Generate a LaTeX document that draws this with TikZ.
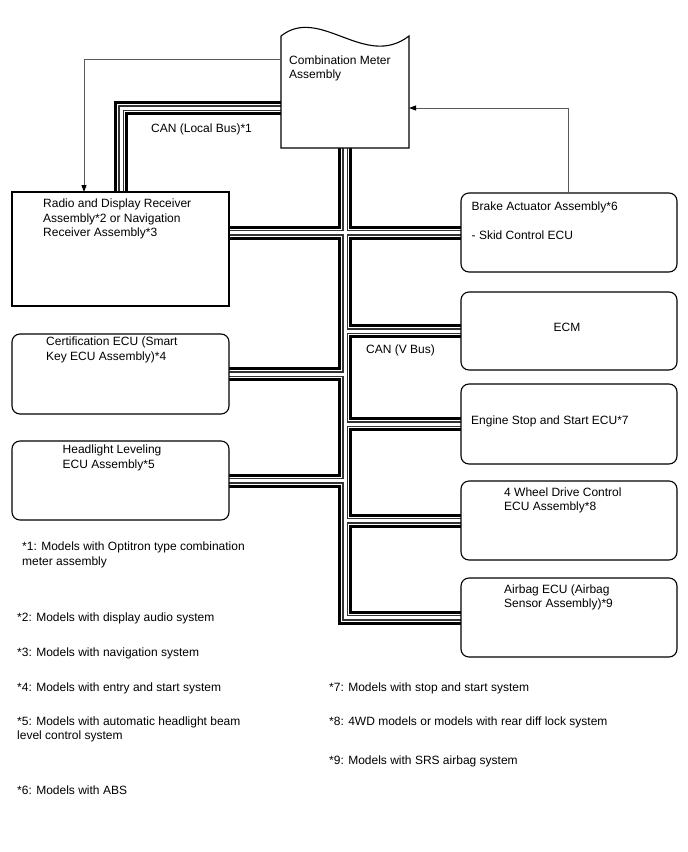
\documentclass[tikz,border=0pt]{standalone}
\usepackage{fontspec}
\setmainfont{Liberation Sans}
\usetikzlibrary{arrows.meta,backgrounds}
\begin{document}
\begin{tikzpicture}[x=1pt,y=-1pt,
  font=\fontsize{12pt}{14.3pt}\selectfont,
  unit/.style={draw,line width=1.1pt,fill=white,rounded corners=8pt,inner sep=0pt,outer sep=0pt},
  txt/.style={anchor=west,inner sep=0pt,align=left},
  sig/.style={draw=black!65,line width=0.9pt,-{Triangle[length=7pt,width=5pt,color=black]}}]
\useasboundingbox (0,0) rectangle (688,852);
% units
\node[inner sep=0pt,outer sep=0pt,minimum width=128pt,minimum height=112pt] (meter) at (345,92) {};
\draw[line width=1.1pt,fill=white] (meter.south west) -- (meter.north west)
  .. controls +(39,-31) and +(-44,34) .. (meter.north east) -- (meter.south east) -- cycle;
\node[fill=white,inner sep=0pt,outer sep=0pt,minimum width=217pt,minimum height=114pt] (radio) at (120.5,249) {};
\draw[line width=1.1pt] (radio.north west) -- (radio.north east) -- (radio.south east)
  -- (radio.south west) -- cycle;
\node[unit,minimum width=217pt,minimum height=80pt] (cert) at (120.5,374) {};
\node[unit,minimum width=217pt,minimum height=79pt] (head) at (120.5,480.5) {};
\node[unit,minimum width=216pt,minimum height=79pt] (brake) at (569,232.5) {};
\node[unit,minimum width=216pt,minimum height=78pt] (ecm) at (569,331) {};
\node[unit,minimum width=216pt,minimum height=80pt] (engine) at (569,424) {};
\node[unit,minimum width=216pt,minimum height=79pt] (awd) at (569,520.5) {};
\node[unit,minimum width=216pt,minimum height=79pt] (airbag) at (569,617.5) {};
% texts in the units
\node[txt] (meter-txt) at (289,68.5) {Combination Meter\\Assembly};
\node[txt] (radio-txt) at (43,219) {Radio and Display Receiver\\Assembly*2 or Navigation\\Receiver Assembly*3};
\node[txt] (cert-txt) at (46,350) {Certification ECU (Smart\\Key ECU Assembly)*4};
\node[txt] (head-txt) at (62.5,458) {Headlight Leveling\\ECU Assembly*5};
\node[txt] (brake-txt) at (471.5,221) {Brake Actuator Assembly*6\\[14.3pt]- Skid Control ECU};
\node[inner sep=0pt] (ecm-txt) at (567,327) {ECM};
\node[txt] (engine-txt) at (471,421) {Engine Stop and Start ECU*7};
\node[txt] (awd-txt) at (504,500.5) {4 Wheel Drive Control\\ECU Assembly*8};
\node[txt] (airbag-txt) at (504,597.5) {Airbag ECU (Airbag\\Sensor Assembly)*9};
% bus labels
\node[txt] (local-lbl) at (151,129) {CAN (Local Bus)*1};
\node[txt] (vbus-lbl) at (366,350) {CAN (V Bus)};
% signal lines
\coordinate (sigL) at (84,59);
\coordinate (sigR) at (568,108);
\draw[sig] (sigL -| meter.west) -- (sigL) -- (sigL |- radio.north);
\draw[sig] (sigR |- brake.north) -- (sigR) -- (sigR -| meter.east);
% buses
\coordinate (local) at (121,108);
\begin{pgfonlayer}{background}
\foreach \w/\c in {14/black,8/white,6/black!80,3/white}
  \draw[line width=\w pt,\c]
    (local -| meter.west) -- (local) -- (local |- radio.north)
    (meter.south) -- (meter.south |- airbag.west) -- (airbag.west)
    (radio.east |- brake.west) -- (brake.west)
    (meter.south |- ecm.west) -- (ecm.west)
    (meter.south |- engine.west) -- (engine.west)
    (meter.south |- awd.west) -- (awd.west)
    (cert.east) -- (cert.east -| meter.south)
    (head.east) -- (head.east -| meter.south);
\end{pgfonlayer}
% notes
\node[txt] (fn1) at (22,555) {*1: Models with Optitron type combination\\meter assembly};
\node[txt] (fn2) at (17,618) {*2: Models with display audio system};
\node[txt] (fn3) at (17,653) {*3: Models with navigation system};
\node[txt] (fn4) at (17,688) {*4: Models with entry and start system};
\node[txt] (fn5) at (17,729.5) {*5: Models with automatic headlight beam\\level control system};
\node[txt] (fn6) at (17,790) {*6: Models with ABS};
\node[txt] (fn7) at (329,688) {*7: Models with stop and start system};
\node[txt] (fn8) at (329,722) {*8: 4WD models or models with rear diff lock system};
\node[txt] (fn9) at (329,761) {*9: Models with SRS airbag system};
\end{tikzpicture}
\end{document}
